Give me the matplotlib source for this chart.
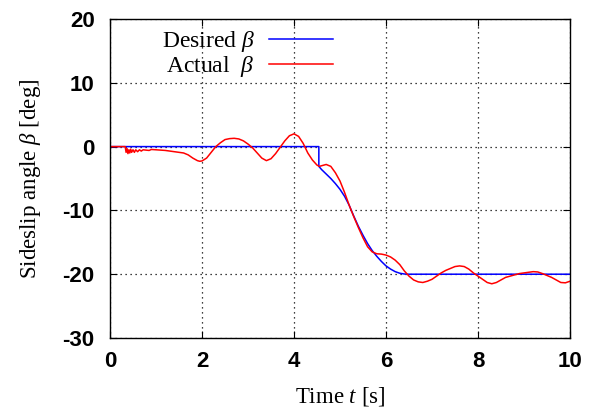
import matplotlib
matplotlib.use("Agg")
import matplotlib.pyplot as plt

# Desired beta
t_des = [0.0, 4.54, 4.54, 4.6, 4.7, 4.8, 4.9, 5.0, 5.1, 5.2, 5.3, 5.4, 5.5, 5.6,
         5.7, 5.8, 5.9, 6.0, 6.1, 6.2, 6.3, 6.4, 6.5, 10.0]
b_des = [0.0, 0.0, -3.1, -3.6, -4.3, -5.0, -5.8, -6.7, -7.8, -9.2, -10.9, -12.5,
         -13.9, -15.2, -16.3, -17.2, -18.0, -18.7, -19.2, -19.6, -19.85, -19.97, -20.0, -20.0]

# Actual beta
t_act = [0.0, 0.33, 0.35, 0.37, 0.39, 0.41, 0.43, 0.45, 0.47, 0.50, 0.53, 0.56, 0.60,
         0.64, 0.68, 0.72, 0.78, 0.85, 0.9, 1.0, 1.1, 1.2, 1.3, 1.4, 1.5, 1.6, 1.7,
         1.8, 1.9, 1.95, 2.0, 2.1, 2.2, 2.3, 2.4, 2.5, 2.6, 2.7, 2.8, 2.9, 3.0, 3.1,
         3.2, 3.3, 3.4, 3.5, 3.6, 3.7, 3.8, 3.9, 4.0, 4.1, 4.2, 4.3, 4.4, 4.5, 4.55,
         4.6, 4.7, 4.8, 4.9, 5.0, 5.1, 5.2, 5.3, 5.4, 5.5, 5.6, 5.7, 5.8, 5.9, 6.0,
         6.1, 6.2, 6.3, 6.4, 6.5, 6.6, 6.7, 6.8, 6.9, 7.0, 7.1, 7.2, 7.3, 7.4, 7.5,
         7.6, 7.7, 7.8, 7.9, 8.0, 8.1, 8.2, 8.3, 8.4, 8.5, 8.6, 8.7, 8.8, 8.9, 9.0,
         9.1, 9.2, 9.3, 9.4, 9.5, 9.6, 9.7, 9.8, 9.9, 10.0]
b_act = [0.0, 0.0, -0.9, -0.3, -1.1, -0.5, -1.0, -0.4, -0.9, -0.5, -0.9, -0.5, -0.8,
         -0.5, -0.7, -0.5, -0.55, -0.6, -0.45, -0.5, -0.55, -0.6, -0.7, -0.8, -0.9,
         -1.0, -1.3, -1.8, -2.2, -2.3, -2.25, -1.8, -0.9, 0.0, 0.6, 1.1, 1.25, 1.3,
         1.2, 0.9, 0.4, -0.2, -1.0, -1.8, -2.2, -1.9, -1.1, -0.1, 0.9, 1.7, 2.0, 1.6,
         0.5, -1.0, -2.1, -2.9, -3.1, -3.0, -2.8, -3.1, -4.1, -5.4, -7.2, -9.2, -11.0,
         -12.7, -14.3, -15.7, -16.5, -16.8, -16.85, -17.0, -17.3, -17.8, -18.5, -19.5,
         -20.3, -20.9, -21.2, -21.3, -21.1, -20.8, -20.3, -19.8, -19.4, -19.1, -18.8,
         -18.7, -18.8, -19.2, -19.8, -20.3, -20.8, -21.3, -21.5, -21.3, -20.9, -20.5,
         -20.3, -20.1, -19.9, -19.8, -19.7, -19.6, -19.65, -19.9, -20.2, -20.5, -20.9,
         -21.3, -21.35, -21.1]

x_ticks = [0, 2, 4, 6, 8, 10]
y_ticks = [-30, -20, -10, 0, 10, 20]

plt.rcParams['mathtext.fontset'] = 'custom'
plt.rcParams['mathtext.rm'] = 'Liberation Serif'
plt.rcParams['mathtext.it'] = 'Liberation Serif:italic'

fig = plt.figure(figsize=(5.89, 4.15), dpi=100)
ax = fig.add_axes([110/589, 1-338/415, 460/589, 319/415])

ax.plot(t_des, b_des, color='#0000ff', lw=1.1, label=r'Desired $\beta$')
ax.plot(t_act, b_act, color='#ff0000', lw=1.1, label=r'Actual  $\beta$')

ax.set_xlim(0, 10)
ax.set_ylim(-30, 20)
ax.set_xticks(x_ticks)
ax.set_yticks(y_ticks)
ax.set_xticklabels([str(v) for v in x_ticks], fontfamily='Liberation Sans', fontweight='bold', fontsize=16)
ax.set_yticklabels([str(v) for v in y_ticks], fontfamily='Liberation Sans', fontweight='bold', fontsize=16)
ax.tick_params(axis='y', direction='in', length=5, width=0.8, right=True, pad=11)
ax.tick_params(axis='x', direction='in', length=5, width=0.8, top=True, pad=9)
ax.grid(True, color='black', linestyle=(0, (1, 3)), linewidth=0.9)
for s in ax.spines.values():
    s.set_linewidth(1.0)
    s.set_color('black')

ax.set_xlabel(r'Time $t$ [s]', fontfamily='Liberation Serif', fontsize=16.5, labelpad=10)
ax.set_ylabel(r'Sideslip angle $\beta$ [deg]', fontfamily='Liberation Serif', fontsize=16.5, labelpad=14)

leg = ax.legend(loc='upper left', bbox_to_anchor=(0.066, 1.035), frameon=False,
                markerfirst=False, handlelength=2.7, handletextpad=0.6,
                labelspacing=0.0, prop={'family': 'Liberation Serif', 'size': 17})

fig.savefig('out.png', dpi=100)
